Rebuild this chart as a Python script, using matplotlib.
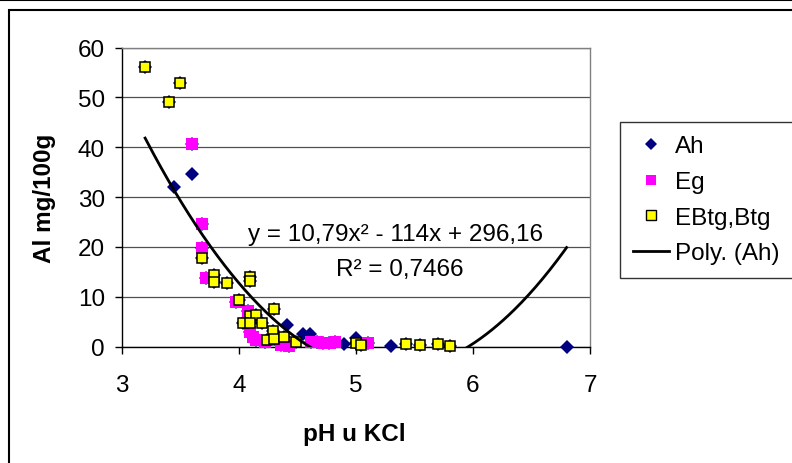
import matplotlib
matplotlib.use("Agg")
import matplotlib.pyplot as plt
import numpy as np
from matplotlib.patches import Rectangle
from matplotlib.lines import Line2D

plt.rcParams['font.family'] = ['Liberation Sans', 'DejaVu Sans']

# ---- data ----
ah_x = [3.45, 3.60, 4.41, 4.55, 4.61, 4.90, 5.00, 5.30, 6.80]
ah_y = [32.0, 34.6, 4.3, 2.6, 2.6, 0.6, 1.7, 0.1, 0.0]

eg_x = [3.60, 3.69, 3.69, 3.72, 3.98, 4.08, 4.10, 4.12, 4.15, 4.22, 4.36, 4.43,
        4.62, 4.67, 4.72, 4.77, 4.82, 5.10]
eg_y = [40.7, 24.6, 19.8, 13.8, 9.0, 7.2, 3.0, 2.0, 1.4, 1.0, 0.4, 0.2,
        0.9, 1.0, 0.7, 0.8, 0.9, 0.8]

eb_x = [3.20, 3.40, 3.50, 3.69, 3.79, 3.79, 3.90, 4.10, 4.10, 4.00, 4.30, 4.10,
        4.15, 4.04, 4.10, 4.20, 4.29, 4.24, 4.30, 4.39, 4.49, 5.00, 5.04, 5.43,
        5.55, 5.70, 5.80]
eb_y = [56.1, 49.0, 52.9, 17.7, 14.4, 13.0, 12.7, 13.9, 13.1, 9.4, 7.6, 6.2,
        6.4, 4.7, 4.7, 4.7, 3.2, 1.4, 1.5, 2.0, 0.9, 0.8, 0.4, 0.5,
        0.4, 0.5, 0.1]

trend_coef = [10.79, -114.0, 296.16]   # y = a x^2 + b x + c
trend_range = [3.2, 6.8]
equation_text = "y = 10,79x\u00b2 - 114x + 296,16"
r2_text = "R\u00b2 = 0,7466"

x_ticks = [3, 4, 5, 6, 7]
y_ticks = [0, 10, 20, 30, 40, 50, 60]

FS = 17.5

# ---- figure ----
W, H = 792, 464
fig = plt.figure(figsize=(W / 100, H / 100), dpi=100)
fig.patch.set_facecolor('white')

L, R, T, B = 121.7, 590.0, 48.6, 347.7
ax = fig.add_axes([L / W, 1 - B / H, (R - L) / W, (B - T) / H])
ax.set_xlim(3, 7)
ax.set_ylim(0, 60)
ax.set_xticks(x_ticks)
ax.set_yticks(y_ticks)

for s in ['left', 'bottom']:
    ax.spines[s].set_color('black')
    ax.spines[s].set_linewidth(1.0)
for s in ['top', 'right']:
    ax.spines[s].set_color('#808080')
    ax.spines[s].set_linewidth(1.0)

ax.yaxis.grid(True, color='#505050', linewidth=0.9)
ax.set_axisbelow(True)
ax.tick_params(axis='both', direction='out', length=5, width=1, labelsize=FS)
ax.tick_params(axis='y', pad=7)
ax.tick_params(axis='x', pad=15)

DMS, EGMS, EBMS = 7.2, 8.4, 7.2

# hidden Ah diamonds under all samples (series includes all points)
all_x = ah_x + eg_x + eb_x
all_y = ah_y + eg_y + eb_y
ax.plot(all_x, all_y, linestyle='none', marker='D', markersize=DMS,
        color='#000080', markeredgewidth=0, zorder=3, clip_on=False)
ax.plot(eg_x, eg_y, linestyle='none', marker='s', markersize=EGMS,
        color='#FF00FF', markeredgewidth=0, zorder=4, clip_on=False)
ax.plot(eb_x, eb_y, linestyle='none', marker='s', markersize=EBMS,
        markerfacecolor='#FFFF00', markeredgecolor='black',
        markeredgewidth=1.1, zorder=5, clip_on=False)

tx = np.linspace(trend_range[0], trend_range[1], 300)
ty = np.polyval(trend_coef, tx)
ax.plot(tx, ty, color='black', linewidth=2.0, zorder=6)

fig.text(248 / W, 1 - 235 / H, equation_text, fontsize=FS, ha='left', va='center', zorder=7)
fig.text(336 / W, 1 - 270 / H, r2_text, fontsize=FS, ha='left', va='center', zorder=7)

fig.text(45 / W, 1 - 198 / H, 'Al mg/100g', rotation=90, fontsize=FS,
         fontweight='bold', ha='center', va='center')
fig.text(354 / W, 1 - 435 / H, 'pH u KCl', fontsize=FS, fontweight='bold',
         ha='center', va='center')

# legend
handles = [
    Line2D([], [], linestyle='none', marker='D', markersize=6.5,
           color='#000080', markeredgewidth=0),
    Line2D([], [], linestyle='none', marker='s', markersize=7.5,
           color='#FF00FF', markeredgewidth=0),
    Line2D([], [], linestyle='none', marker='s', markersize=6.8,
           markerfacecolor='#FFFF00', markeredgecolor='black', markeredgewidth=1.0),
    Line2D([], [], color='black', linewidth=2.0),
]
labels = ['Ah', 'Eg', 'EBtg,Btg', 'Poly. (Ah)']
leg = fig.legend(handles, labels, loc='upper left',
                 bbox_to_anchor=(620 / W, 1 - 123 / H),
                 bbox_transform=fig.transFigure,
                 fontsize=FS, frameon=True, fancybox=False, shadow=False,
                 borderpad=0.55, labelspacing=0.56, handlelength=1.45,
                 handletextpad=0.28, borderaxespad=0)
leg.get_frame().set_edgecolor('black')
leg.get_frame().set_linewidth(1.0)

# chart frame
fig.add_artist(Rectangle((9 / W, -0.05), 1.2, 1 - 11 / H + 0.05,
                         transform=fig.transFigure, fill=False,
                         edgecolor='black', linewidth=1.5))
fig.add_artist(Line2D([0, 1], [1 - 0.8 / H, 1 - 0.8 / H],
                      transform=fig.transFigure, color='black', linewidth=1.5))

fig.savefig('out.png', dpi=100)
